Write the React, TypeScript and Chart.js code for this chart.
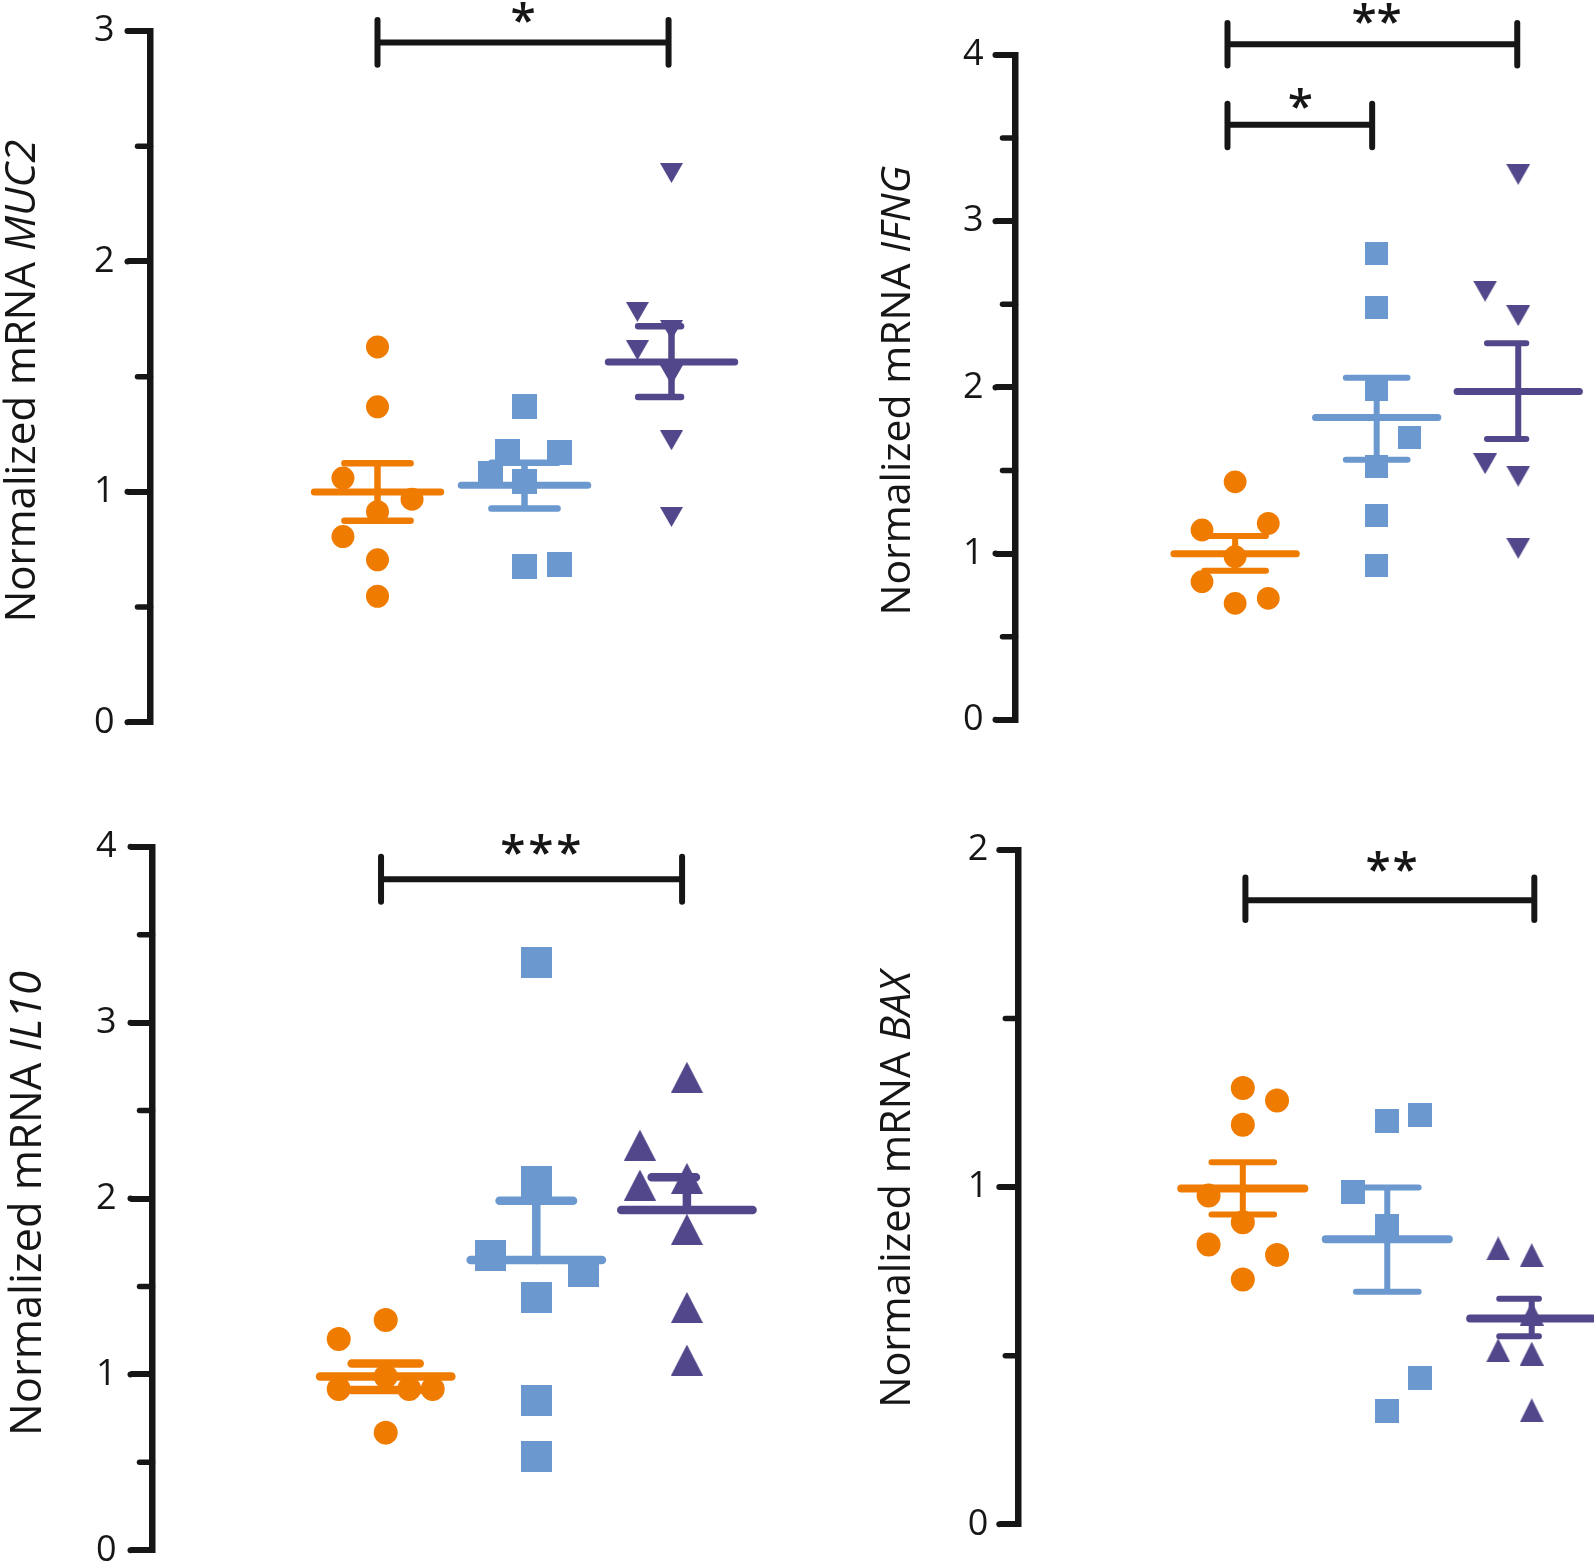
import React, { useEffect, useRef } from "react";
import { Chart, registerables } from "chart.js";

Chart.register(...registerables);

const PAGE_W = 1594;
const PAGE_H = 1568;
const INK = "#161616";
const ORANGE = "#EF7B00";
const BLUE = "#6A98CF";
const PURPLE = "#52478B";
const FONT = '"Open Sans", "Noto Sans", sans-serif';
const TITLE_PREFIX = "Normalized mRNA ";

// ---------------- MUC2 ----------------
const muc2Ticks = [0, 1, 2, 3];
const muc2Minor = [0.5, 1.5, 2.5];
const muc2CircleY = [1.629, 1.369, 1.06, 0.968, 0.914, 0.806, 0.705, 0.547];
const muc2CircleDx = [0, 0, -0.235, 0.235, 0, -0.235, 0, 0];
const muc2SquareY = [1.369, 1.174, 1.169, 1.081, 1.043, 0.674, 0.686];
const muc2SquareDx = [0, -0.114, 0.235, -0.233, 0, 0, 0.235];
const muc2TriY = [2.384, 1.781, 1.702, 1.615, 1.507, 1.224, 0.891];
const muc2TriDx = [0, -0.232, 0, -0.232, 0, 0, 0];
const muc2Mean = [0.999, 1.029, 1.564];
const muc2Upper = [1.124, 1.126, 1.719];
const muc2Lower = [0.875, 0.928, 1.412];
const muc2Sig = [
  { from: 1, to: 2.98, y: 2.95, hi: 3.048, lo: 2.853, stars: "*", sx: 1.99, sy: 3.08 },
];

// ---------------- IFNG ----------------
const ifngTicks = [0, 1, 2, 3, 4];
const ifngMinor = [0.5, 1.5, 2.5, 3.5];
const ifngCircleY = [1.432, 1.182, 1.142, 0.981, 0.831, 0.731, 0.701];
const ifngCircleDx = [0, 0.234, -0.234, 0, -0.234, 0.234, 0];
const ifngSquareY = [2.803, 2.483, 1.99, 1.699, 1.526, 1.227, 0.928];
const ifngSquareDx = [0, 0, 0, 0.234, 0, 0, 0];
const ifngTriY = [3.282, 2.579, 2.432, 1.541, 1.466, 1.032];
const ifngTriDx = [0, -0.234, 0, -0.234, 0, 0];
const ifngMean = [0.999, 1.819, 1.975];
const ifngUpper = [1.106, 2.058, 2.265];
const ifngLower = [0.897, 1.565, 1.69];
const ifngSig = [
  { from: 0.946, to: 2.993, y: 4.065, hi: 4.193, lo: 3.937, stars: "**", sx: 2.0, sy: 4.25 },
  { from: 0.946, to: 1.968, y: 3.58, hi: 3.707, lo: 3.445, stars: "*", sx: 1.46, sy: 3.74 },
];

// ---------------- IL10 ----------------
const il10Ticks = [0, 1, 2, 3, 4];
const il10Minor = [0.5, 1.5, 2.5, 3.5];
const il10CircleY = [1.31, 1.201, 0.988, 0.917, 0.917, 0.917, 0.669];
const il10CircleDx = [0, -0.312, 0, -0.312, 0.156, 0.312, 0];
const il10SquareY = [3.34, 2.096, 1.679, 1.584, 1.436, 0.849, 0.536];
const il10SquareDx = [0, 0, -0.307, 0.315, 0, 0, 0];
const il10TriY = [2.69, 2.304, 2.077, 2.115, 1.825, 1.381, 1.082];
const il10TriDx = [0, -0.312, -0.312, 0, 0, 0, 0];
const il10Mean = [0.988, 1.65, 1.935];
const il10Upper = [1.062, 1.988, 2.121];
const il10Lower: (number | null)[] = [0.911, null, null];
const il10Sig = [
  { from: 0.969, to: 2.968, y: 3.815, hi: 3.943, lo: 3.687, stars: "***", sx: 2.03, sy: 4.015 },
];

// ---------------- BAX ----------------
const baxTicks = [0, 1, 2];
const baxMinor = [0.5, 1.5];
const baxCircleY = [1.294, 1.257, 1.185, 0.975, 0.896, 0.83, 0.799, 0.726];
const baxCircleDx = [0, 0.237, 0, -0.237, 0, -0.237, 0.237, 0];
const baxSquareY = [1.197, 1.215, 0.984, 0.885, 0.434, 0.335];
const baxSquareDx = [0, 0.227, -0.238, 0, 0.227, 0];
const baxTriY = [0.818, 0.798, 0.625, 0.516, 0.506, 0.338];
const baxTriDx = [-0.232, 0, 0, -0.232, 0, 0];
const baxMean = [0.996, 0.845, 0.61];
const baxUpper = [1.074, 0.999, 0.669];
const baxLower = [0.919, 0.69, 0.558];
const baxSig = [
  { from: 1.018, to: 3.018, y: 1.851, hi: 1.918, lo: 1.792, stars: "**", sx: 2.03, sy: 1.966 },
];

type Sig = { from: number; to: number; y: number; hi: number; lo: number; stars: string; sx: number; sy: number };
type Layout = {
  axisX: number; top: number; bottom: number; c1: number; s: number; R: number;
  tickLen: number; tickPad: number; minorLen: number;
  titleX: number; titleY: number; titleSize: number;
  circleR: number; square: number; triW: number; triH: number; triDir: "up" | "down";
  meanW: number; errW: number; meanHalf: number; capL: number[]; capR: number[];
  starGap: number;
};
type Panel = {
  id: string; gene: string; yMax: number; ticks: number[]; minor: number[];
  groups: { y: number[]; dx: number[] }[];
  mean: number[]; upper: (number | null)[]; lower: (number | null)[];
  sig: Sig[]; layout: Layout;
};

const panels: Panel[] = [
  {
    id: "muc2", gene: "MUC2", yMax: 3, ticks: muc2Ticks, minor: muc2Minor,
    groups: [
      { y: muc2CircleY, dx: muc2CircleDx },
      { y: muc2SquareY, dx: muc2SquareDx },
      { y: muc2TriY, dx: muc2TriDx },
    ],
    mean: muc2Mean, upper: muc2Upper, lower: muc2Lower, sig: muc2Sig,
    layout: {
      axisX: 150.5, top: 31, bottom: 722.3, c1: 377.5, s: 147, R: 790,
      tickLen: 23, tickPad: 13, minorLen: 13,
      titleX: 35, titleY: 381, titleSize: 42,
      circleR: 11.5, square: 24.5, triW: 23, triH: 20, triDir: "down",
      meanW: 7, errW: 6.5, meanHalf: 0.43, capL: [0.225, 0.225, 0.227], capR: [0.225, 0.225, 0.065],
      starGap: 25,
    },
  },
  {
    id: "ifng", gene: "IFNG", yMax: 4, ticks: ifngTicks, minor: ifngMinor,
    groups: [
      { y: ifngCircleY, dx: ifngCircleDx },
      { y: ifngSquareY, dx: ifngSquareDx },
      { y: ifngTriY, dx: ifngTriDx },
    ],
    mean: ifngMean, upper: ifngUpper, lower: ifngLower, sig: ifngSig,
    layout: {
      axisX: 1015.5, top: 55, bottom: 719.8, c1: 1238, s: 143.4, R: 1590,
      tickLen: 20, tickPad: 12, minorLen: 13,
      titleX: 910, titleY: 390.5, titleSize: 41,
      circleR: 11.4, square: 23, triW: 24, triH: 21, triDir: "down",
      meanW: 7, errW: 6, meanHalf: 0.432, capL: [0.218, 0.218, 0.221], capR: [0.218, 0.218, 0.057],
      starGap: 25,
    },
  },
  {
    id: "il10", gene: "IL10", yMax: 4, ticks: il10Ticks, minor: il10Minor,
    groups: [
      { y: il10CircleY, dx: il10CircleDx },
      { y: il10SquareY, dx: il10SquareDx },
      { y: il10TriY, dx: il10TriDx },
    ],
    mean: il10Mean, upper: il10Upper, lower: il10Lower, sig: il10Sig,
    layout: {
      axisX: 152.5, top: 846.8, bottom: 1550.3, c1: 385.7, s: 150.6, R: 790,
      tickLen: 22, tickPad: 14, minorLen: 13,
      titleX: 41, titleY: 1203.5, titleSize: 43.5,
      circleR: 12, square: 31, triW: 32, triH: 31, triDir: "up",
      meanW: 8.5, errW: 8.5, meanHalf: 0.436, capL: [0.226, 0.244, 0.234], capR: [0.226, 0.244, 0.06],
      starGap: 28,
    },
  },
  {
    id: "bax", gene: "BAX", yMax: 2, ticks: baxTicks, minor: baxMinor,
    groups: [
      { y: baxCircleY, dx: baxCircleDx },
      { y: baxSquareY, dx: baxSquareDx },
      { y: baxTriY, dx: baxTriDx },
    ],
    mean: baxMean, upper: baxUpper, lower: baxLower, sig: baxSig,
    layout: {
      axisX: 1018.3, top: 849.9, bottom: 1524.3, c1: 1246, s: 146.5, R: 1590,
      tickLen: 19, tickPad: 11, minorLen: 13,
      titleX: 910, titleY: 1189.5, titleSize: 41.5,
      circleR: 12, square: 23.5, triW: 23.5, triH: 23.5, triDir: "up",
      meanW: 8, errW: 6, meanHalf: 0.426, capL: [0.217, 0.217, 0.225], capR: [0.217, 0.217, 0.05],
      starGap: 27,
    },
  },
];

const GROUP_COLORS = [ORANGE, BLUE, PURPLE];

function makeMarker(kind: "square" | "up" | "down", color: string, w: number, h: number): HTMLCanvasElement {
  const c = document.createElement("canvas");
  c.width = Math.round(w);
  c.height = Math.round(h);
  const g = c.getContext("2d")!;
  const W = c.width;
  const H = c.height;
  g.fillStyle = color;
  g.beginPath();
  if (kind === "square") {
    g.rect(0, 0, W, H);
  } else if (kind === "down") {
    g.moveTo(0, 0);
    g.lineTo(W, 0);
    g.lineTo(W / 2, H);
    g.closePath();
  } else {
    g.moveTo(W / 2, 0);
    g.lineTo(W, H);
    g.lineTo(0, H);
    g.closePath();
  }
  g.fill();
  return c;
}

const GAP = (x: number) => ({ x, y: null as any });

function buildConfig(p: Panel): any {
  const L = p.layout;
  const xMin = 1 - (L.c1 - L.axisX) / L.s;
  const xMax = 1 + (L.R - L.c1) / L.s;
  const datasets: any[] = [];

  p.groups.forEach((grp, gi) => {
    const gx = gi + 1;
    const color = GROUP_COLORS[gi];
    let style: any = "circle";
    if (gi === 1) style = makeMarker("square", color, L.square, L.square);
    if (gi === 2) style = makeMarker(L.triDir, color, L.triW, L.triH);
    datasets.push({
      type: "scatter",
      data: grp.y.map((v, i) => ({ x: gx + grp.dx[i], y: v })),
      pointStyle: style,
      pointRadius: gi === 0 ? L.circleR : 10,
      pointBackgroundColor: color,
      pointBorderWidth: 0,
      pointBorderColor: color,
      showLine: false,
      clip: false,
    });
    datasets.push({
      type: "scatter",
      data: [
        { x: gx - L.meanHalf, y: p.mean[gi] },
        { x: gx + L.meanHalf, y: p.mean[gi] },
      ],
      showLine: true,
      spanGaps: false,
      borderColor: color,
      borderWidth: L.meanW,
      borderCapStyle: "round",
      pointRadius: 0,
      clip: false,
    });
    const up = p.upper[gi];
    const lo = p.lower[gi];
    const err: any[] = [];
    if (up !== null) {
      err.push({ x: gx - L.capL[gi], y: up }, { x: gx + L.capR[gi], y: up }, GAP(gx));
      err.push({ x: gx, y: up }, { x: gx, y: p.mean[gi] }, GAP(gx));
    }
    if (lo !== null) {
      err.push({ x: gx, y: p.mean[gi] }, { x: gx, y: lo }, GAP(gx));
      err.push({ x: gx - L.capL[gi], y: lo }, { x: gx + L.capR[gi], y: lo });
    }
    datasets.push({
      type: "scatter",
      data: err,
      showLine: true,
      spanGaps: false,
      borderColor: color,
      borderWidth: L.errW,
      borderCapStyle: "round",
      borderJoinStyle: "round",
      pointRadius: 0,
      clip: false,
    });
  });

  p.sig.forEach((sg) => {
    datasets.push({
      type: "scatter",
      data: [
        { x: sg.from, y: sg.hi }, { x: sg.from, y: sg.lo }, GAP(sg.from),
        { x: sg.from, y: sg.y }, { x: sg.to, y: sg.y }, GAP(sg.to),
        { x: sg.to, y: sg.hi }, { x: sg.to, y: sg.lo },
      ],
      showLine: true,
      spanGaps: false,
      borderColor: INK,
      borderWidth: 6,
      borderCapStyle: "round",
      pointRadius: 0,
      clip: false,
    });
  });

  const decoPlugin = {
    id: "deco_" + p.id,
    afterDraw(chart: any) {
      const ctx: CanvasRenderingContext2D = chart.ctx;
      const ys = chart.scales.y;
      const xs = chart.scales.x;
      const left = chart.chartArea.left;
      ctx.save();
      // rounded ends of the major ticks
      ctx.fillStyle = INK;
      for (const v of p.ticks) {
        const py = ys.getPixelForValue(v);
        ctx.beginPath();
        ctx.arc(left - L.tickLen, py, 3, 0, Math.PI * 2);
        ctx.fill();
      }
      // minor ticks
      ctx.strokeStyle = INK;
      ctx.lineWidth = 5.5;
      ctx.lineCap = "round";
      for (const v of p.minor) {
        const py = ys.getPixelForValue(v);
        ctx.beginPath();
        ctx.moveTo(left - L.minorLen, py);
        ctx.lineTo(left, py);
        ctx.stroke();
      }
      // y title with italic gene symbol
      ctx.textBaseline = "alphabetic";
      ctx.textAlign = "left";
      const f1 = `${L.titleSize}px ${FONT}`;
      const f2 = `italic ${L.titleSize}px ${FONT}`;
      ctx.font = f1;
      const w1 = ctx.measureText(TITLE_PREFIX).width;
      ctx.font = f2;
      const w2 = ctx.measureText(p.gene).width;
      ctx.save();
      ctx.translate(L.titleX, L.titleY);
      ctx.rotate(-Math.PI / 2);
      const sx = -(w1 + w2) / 2;
      ctx.font = f1;
      ctx.fillText(TITLE_PREFIX, sx, 0);
      ctx.font = f2;
      ctx.fillText(p.gene, sx + w1, 0);
      ctx.restore();
      // significance stars
      ctx.font = `600 46px ${FONT}`;
      ctx.textAlign = "center";
      const m = ctx.measureText("*");
      const asc = m.actualBoundingBoxAscent;
      const desc = m.actualBoundingBoxDescent;
      for (const sg of p.sig) {
        const px = xs.getPixelForValue(sg.sx);
        const py = ys.getPixelForValue(sg.sy) + (asc - desc) / 2;
        const n = sg.stars.length;
        for (let k = 0; k < n; k++) {
          ctx.fillText("*", px + (k - (n - 1) / 2) * L.starGap, py);
        }
      }
      ctx.restore();
    },
  };

  return {
    type: "scatter",
    data: { datasets },
    options: {
      animation: false,
      responsive: false,
      maintainAspectRatio: false,
      devicePixelRatio: 1,
      events: [],
      layout: {
        padding: {
          left: L.axisX - 80,
          right: PAGE_W - L.R,
          top: L.top,
          bottom: PAGE_H - L.bottom,
        },
      },
      plugins: {
        legend: { display: false },
        tooltip: { enabled: false },
        title: { display: false },
      },
      scales: {
        x: { type: "linear", display: false, min: xMin, max: xMax },
        y: {
          type: "linear",
          position: "left",
          min: 0,
          max: p.yMax,
          afterBuildTicks: (axis: any) => {
            axis.ticks = p.ticks.map((v) => ({ value: v }));
          },
          afterFit: (axis: any) => {
            axis.width = 80;
            axis.paddingTop = 0;
            axis.paddingBottom = 0;
          },
          border: { display: true, color: INK, width: 6.5 },
          grid: {
            display: true,
            drawOnChartArea: false,
            drawTicks: true,
            tickLength: L.tickLen,
            color: INK,
            lineWidth: 6,
          },
          ticks: {
            color: INK,
            padding: L.tickPad,
            font: { family: FONT, size: 36, lineHeight: 1 },
            callback: (v: any) => String(v),
          },
        },
      },
    },
    plugins: [decoPlugin],
  };
}

function PanelChart({ panel }: { panel: Panel }) {
  const ref = useRef<HTMLCanvasElement | null>(null);
  useEffect(() => {
    if (!ref.current) return;
    const chart = new Chart(ref.current, buildConfig(panel));
    return () => chart.destroy();
  }, [panel]);
  return (
    <canvas
      ref={ref}
      width={PAGE_W}
      height={PAGE_H}
      style={{ position: "absolute", left: 0, top: 0, width: PAGE_W, height: PAGE_H }}
    />
  );
}

export default function App() {
  return (
    <div
      style={{
        position: "absolute",
        left: 0,
        top: 0,
        width: PAGE_W,
        height: PAGE_H,
        overflow: "hidden",
        background: "#ffffff",
      }}
    >
      {panels.map((p) => (
        <PanelChart key={p.id} panel={p} />
      ))}
    </div>
  );
}
